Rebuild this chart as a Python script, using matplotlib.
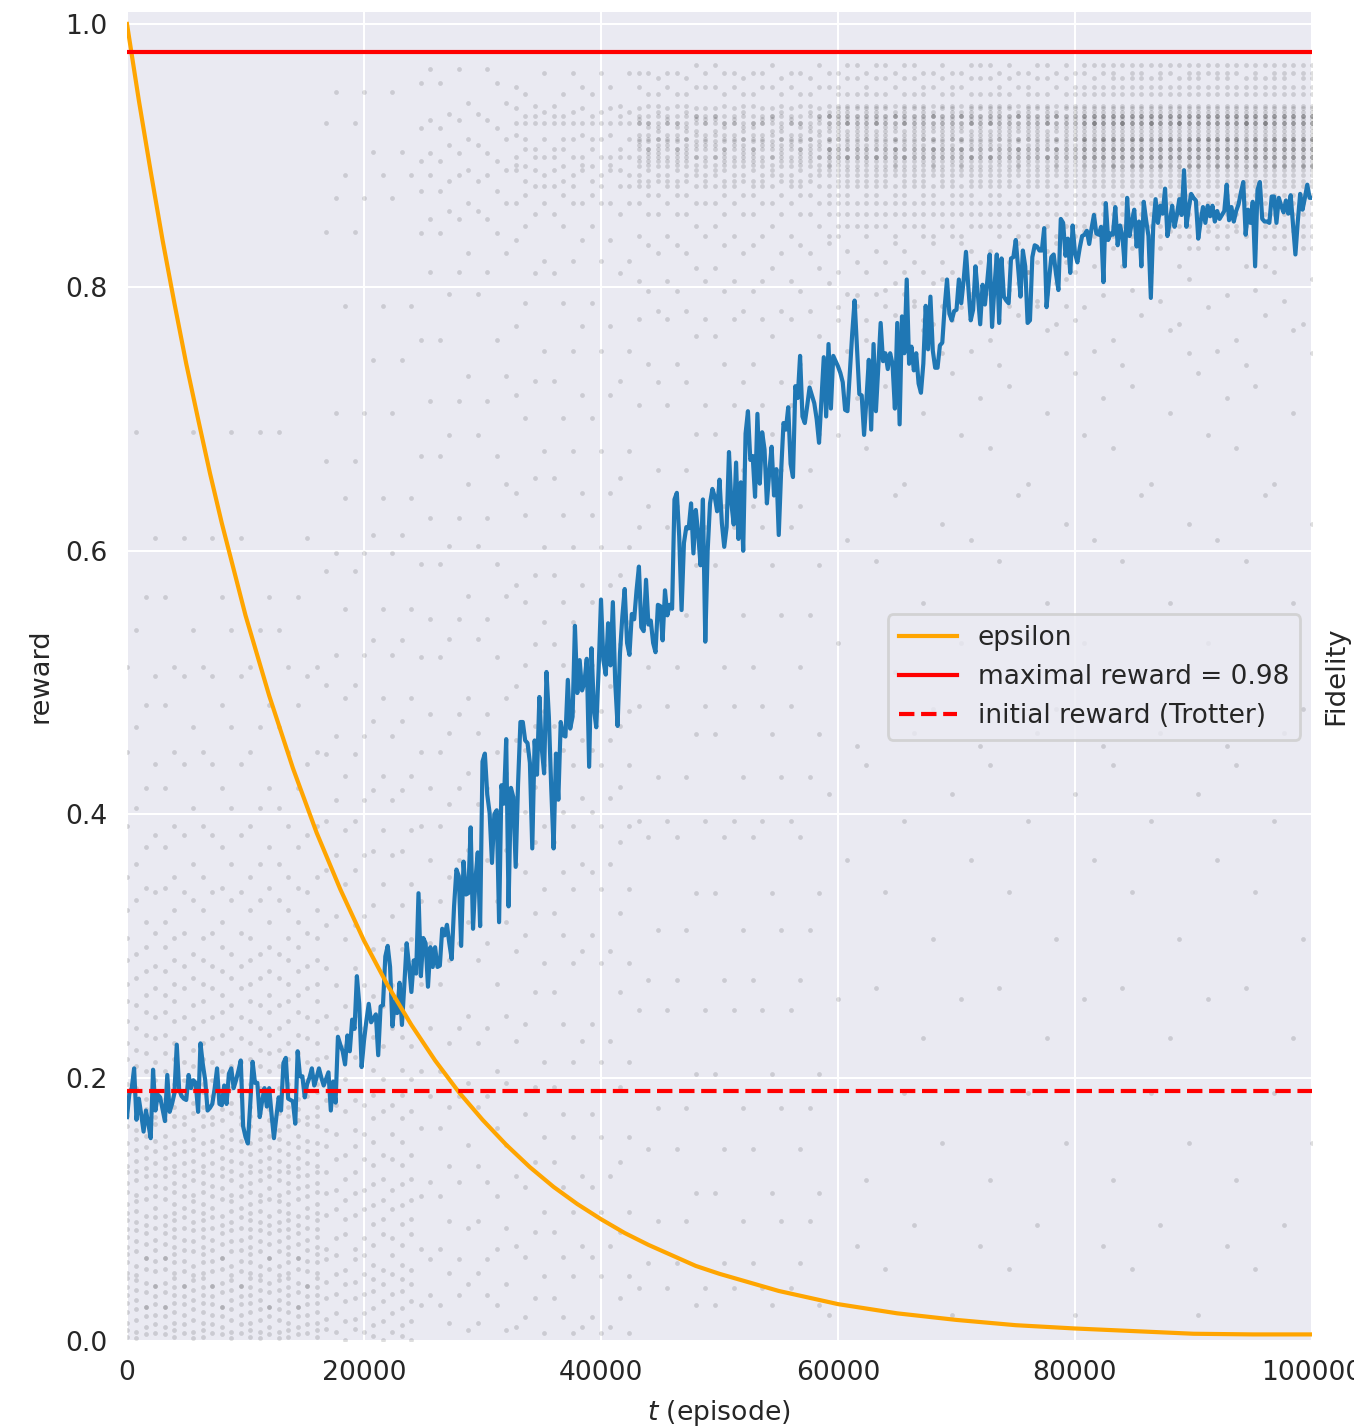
import matplotlib
matplotlib.use("Agg")
import matplotlib.pyplot as plt
import numpy as np

# Rolling reward, one value per 200 episodes (thousandths).
reward_line = [
170,188,192,207,168,184,172,159,175,165,
154,206,175,187,185,176,167,202,174,180,
188,225,191,186,184,183,202,192,198,196,
174,226,210,198,175,177,180,192,207,180,
179,194,180,203,207,192,198,205,213,163,
155,150,180,212,196,196,170,182,192,178,
192,172,154,170,185,175,211,215,184,183,
182,165,220,201,201,185,195,200,207,194,
200,207,200,194,199,204,175,197,181,231,
225,220,210,232,220,244,237,277,256,208,
228,243,256,242,245,248,217,254,255,292,
300,284,239,258,249,272,240,270,302,285,
265,289,279,340,277,306,302,269,299,284,
299,284,285,313,308,316,302,290,330,358,
353,300,364,339,340,390,313,350,371,315,
440,446,415,401,363,400,403,318,422,408,
457,330,420,413,360,423,470,470,456,454,
439,374,456,430,489,450,431,508,474,420,
374,446,411,470,460,459,502,465,474,543,
492,517,494,500,518,436,526,480,466,510,
563,517,506,545,513,561,500,467,522,550,
571,530,521,552,548,570,588,542,539,578,
544,547,530,523,559,558,532,570,551,559,
556,639,644,611,555,606,618,617,636,598,
631,613,589,639,531,600,636,647,641,630,
654,621,603,618,675,636,620,667,609,652,
600,689,706,669,672,641,704,651,690,677,
636,660,679,642,662,612,660,697,692,709,
666,656,725,716,748,702,697,710,724,718,
712,700,682,715,747,702,757,708,748,744,
740,735,728,707,706,735,765,790,755,719,
718,688,715,745,692,757,706,740,773,744,
750,738,750,742,708,773,696,778,750,806,
742,755,737,750,727,720,742,786,753,793,
752,739,739,756,758,785,806,780,775,782,
783,806,788,805,827,800,775,783,816,795,
772,802,787,805,825,770,800,825,773,822,
793,790,788,822,823,836,815,793,828,816,
773,775,823,832,831,828,828,845,785,805,
823,825,810,798,852,849,824,837,811,847,
826,819,830,839,840,843,833,845,855,841,
840,846,804,864,836,841,840,861,832,847,
839,816,868,839,850,859,831,850,816,865,
851,839,792,846,867,849,862,856,875,839,
850,862,846,855,867,855,889,846,860,871,
868,866,837,850,861,849,862,854,862,850,
858,852,855,858,878,851,861,850,858,863,
872,880,840,859,849,865,816,874,880,852,
850,850,849,869,869,849,868,862,857,866,
856,870,848,825,850,871,859,868,878,868,
868]

eps_t = [0,1000,2000,3000,4000,5000,6000,7000,8000,9000,10000,12000,14000,16000,18000,20000,22000,24000,
         26000,28000,30000,32000,34000,36000,38000,40000,42000,44000,46000,48000,50000,55000,60000,
         65000,70000,75000,80000,85000,90000,95000,100000]
eps_v = [1.0,.942,.888,.836,.788,.742,.700,.659,.621,.586,.551,.490,.435,.386,.343,.304,.270,.240,
         .213,.189,.168,.149,.132,.117,.104,.0925,.082,.073,.065,.057,.051,.038,.028,
         .021,.016,.012,.0095,.0075,.0055,.005,.005]

max_reward = 0.979
init_reward = 0.19
x_ticks = [0,20000,40000,60000,80000,100000]
y_ticks = [0.0,0.2,0.4,0.6,0.8,1.0]

# Individual episode rewards: dots sit in columns every 800 episodes. These are
# hand-read representative column contents per stretch of training, not every dot.
col_step = 800
stage_a = [
 [3,8,14,22,29,35,41,48,52,60,66,71,79,85,92,97,104,113,120,128,133,142,150,163,171,178,189,195,214,226,243,258,271,289,306,327,352,391,447,512],
 [5,11,19,26,26,37,44,55,63,63,74,82,88,95,108,116,125,131,139,147,156,168,176,184,205,219,232,250,263,281,299,318,344,375,420,483,565],
 [2,7,16,24,31,39,46,50,57,68,76,84,90,99,106,111,122,129,137,145,153,160,173,181,192,209,221,238,255,276,294,335,362,405,466,540,690],
 [6,13,20,28,34,42,42,53,61,69,77,86,94,101,110,118,126,135,144,152,165,170,186,198,212,230,246,268,285,310,341,384,438,505,610]]
stage_b = [
 [4,12,25,38,47,58,73,89,103,119,134,151,169,187,206,231,262,298,331,372,418,471,532,612,745,903],
 [9,17,33,45,62,70,96,112,128,148,160,183,216,247,283,316,358,395,446,498,585,668,842,925],
 [1,15,30,43,54,81,93,107,123,141,175,199,224,254,305,347,388,429,488,556,640,786,885],
 [7,21,36,51,65,78,100,115,138,157,179,238,270,323,369,411,459,521,598,705,868,948]]
stage_b2 = [
 [14,52,91,133,178,226,289,352,408,462,533,604,688,795,858,881,908,932],
 [27,70,110,162,205,271,334,391,447,519,590,672,760,841,873,896,921,955],
 [8,43,86,149,196,247,318,373,431,488,566,651,733,826,864,889,913,940],
 [35,62,121,186,238,302,365,420,476,548,625,714,812,852,885,902,927,966]]
stage_c = [
 [18,64,117,172,241,308,356,402,449,513,561,627,701,788,847,870,881,892,905,913,925,930,947],
 [6,49,98,155,212,287,343,391,437,478,546,603,676,752,820,864,877,885,899,913,925,933,963],
 [33,83,136,193,265,325,379,421,467,529,582,655,729,811,856,877,889,899,905,925,930,938],
 [11,72,125,228,296,362,412,456,497,574,644,718,771,836,864,889,893,899,916,925,936,952]]
stage_d = [
 [59,146,274,383,512,634,742,797,832,856,870,877,881,889,893,896,899,902,905,905,911,913,916,922,925,925,930,938,947,963],
 [27,112,203,340,461,589,689,763,815,847,864,877,885,889,893,899,899,905,908,911,916,919,925,928,930,930,936,952,969],
 [91,177,312,428,551,661,728,782,826,856,870,881,885,892,896,899,902,905,908,913,913,919,922,925,930,933,938,947,959],
 [40,251,395,482,618,711,776,805,839,864,877,881,885,892,896,899,905,908,911,913,916,925,925,928,930,936,952,963]]
stage_e = [
 [775,812,839,847,856,864,870,877,881,885,889,893,896,899,899,902,905,905,908,913,913,916,919,922,925,925,928,930,930,933,936,938,947,952,963],
 [795,828,847,856,864,870,877,881,885,889,892,896,899,899,899,905,905,908,911,913,916,919,925,925,925,928,930,930,933,936,938,947,959,969],
 [803,834,839,856,864,870,877,885,889,892,893,896,899,899,902,905,905,905,911,913,913,919,922,925,925,930,930,930,933,938,952,963],
 [786,819,847,856,864,877,881,885,889,892,896,899,899,902,905,905,908,911,913,916,919,922,925,925,928,930,930,936,938,947,959,969]]
stage_f = [
 [830,839,847,856,864,870,877,881,885,889,892,892,893,896,899,899,899,902,905,905,905,908,911,913,913,913,916,919,922,925,925,925,928,930,930,930,933,936,938,947,952,959,963,969],
 [816,839,847,856,864,870,877,881,885,889,892,892,896,899,899,899,902,905,905,905,908,911,913,913,916,919,922,925,925,925,925,928,930,930,930,933,936,938,947,952,959,969],
 [843,847,856,864,870,877,881,885,889,892,893,896,899,899,899,902,905,905,905,908,911,913,913,913,916,919,922,925,925,925,928,930,930,930,933,936,938,947,952,963,969]]
# Sparse low-reward dots of the later columns, drawn beside the dense band.
late_low = [[122,437,678,760],[268,592,741],[55,341,725,798],[508,642,779],[188,395,651,812],[88,462,790],
            [230,560,705,768],[305,480,772],[150,620,750,806],[20,415,735],[260,530,688,785],[365,608,752],[72,452,716,794]]
stages = [(0,21,stage_a,None),(21,31,stage_b,None),(31,41,stage_b2,None),(41,54,stage_c,None),
          (54,74,stage_d,None),(74,101,stage_e,late_low),(101,126,stage_f,late_low)]
column_order = [0,2,1,3,1,0,3,2,0,3,1,2,3,0,2,1,2,0,1,3,0,1,3,2,1,3,0,2,3]

dots_t, dots_r = [], []
for first, last, cols, low in stages:
    for c in range(first, last):
        vals = list(cols[column_order[c % len(column_order)] % len(cols)])
        if low is not None:
            vals += low[c % len(low)]
        dots_t += [c*col_step]*len(vals)
        dots_r += [v/1000 for v in vals]

W, H = 1354, 1427
plt.rcParams.update({
    "font.family": "DejaVu Sans", "font.size": 9.7,
    "text.color": ".15", "axes.labelcolor": ".15",
    "xtick.color": ".15", "ytick.color": ".15",
})
fig = plt.figure(figsize=(W/200, H/200), dpi=200)
ax = fig.add_axes([127/W, (H-1341)/H, 1185/W, 1329/H])
ax.set_facecolor("#EAEAF2")
for s in ax.spines.values():
    s.set_visible(False)
ax.set_axisbelow(True)
ax.grid(True, color="white", lw=0.75)
ax.tick_params(length=0, labelsize=9.6, pad=7)

ax.scatter(dots_t, dots_r, s=3.0, color="k", alpha=0.13, linewidths=0, zorder=2)
ax.plot(np.arange(len(reward_line))*200, np.array(reward_line)/1000, color="#1f77b4", lw=1.5, zorder=3)
ax.plot(eps_t, eps_v, color="orange", lw=1.5, label="epsilon", zorder=4)
ax.axhline(max_reward, color="red", lw=1.5, label="maximal reward = 0.98", zorder=4)
ax.axhline(init_reward, color="red", lw=1.5, ls="--", label="initial reward (Trotter)", zorder=4)

ax.set_xlim(0, 100000)
ax.set_ylim(0, 1329/1317)
ax.set_xticks(x_ticks)
ax.set_yticks(y_ticks)
ax.set_yticklabels([f"{v:.1f}" for v in y_ticks])
ax.set_xlabel("$t$ (episode)", fontsize=9.6)

fig.text(40/W, 1-676/H, "reward", rotation=90, ha="center", va="center", fontsize=9.8)
fig.text(1336/W, 1-676/H, "Fidelity", rotation=90, ha="center", va="center", fontsize=9.9)
ax.xaxis.label.set_position(((719-127)/1185, 0))
ax.xaxis.labelpad = 4

ax.legend(loc="center left", bbox_to_anchor=((888-127-13)/1185, (1341-677)/1329),
          facecolor="#EAEAF2", edgecolor=".8", framealpha=0.8, handlelength=2.2, fontsize=9.5)

fig.savefig("out.png", dpi=200)
